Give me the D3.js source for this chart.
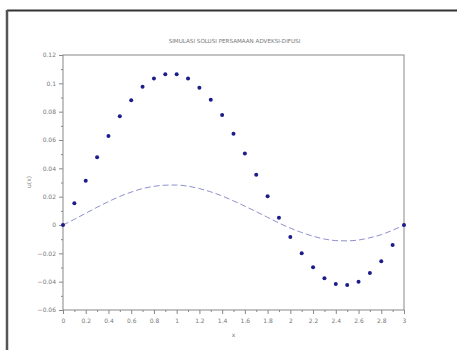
<!DOCTYPE html>
<html>
<head>
<meta charset="utf-8">
<script src="https://cdn.jsdelivr.net/npm/d3@7"></script>
<style>
  body { margin: 0; background: #fff; }
  text { font-family: "DejaVu Sans", sans-serif; fill: #777; }
</style>
</head>
<body>
<div id="chart"></div>
<script>
// x positions (0 .. 3, step 0.1)
const xs = [0, 0.1, 0.2, 0.3, 0.4, 0.5, 0.6, 0.7, 0.8, 0.9, 1.0,
  1.1, 1.2, 1.3, 1.4, 1.5, 1.6, 1.7, 1.8, 1.9, 2.0,
  2.1, 2.2, 2.3, 2.4, 2.5, 2.6, 2.7, 2.8, 2.9, 3.0]

// dotted series
const dots = [0, 0.0153, 0.0313, 0.0478, 0.0628, 0.0767, 0.088, 0.0976, 0.1035, 0.1064, 0.1064,
  0.1035, 0.0969, 0.0885, 0.0776, 0.0645, 0.0504, 0.0355, 0.0203, 0.0052, -0.0085,
  -0.02, -0.0299, -0.0376, -0.0416, -0.0424, -0.04, -0.0339, -0.0256, -0.0141, 0]

// dashed series
const dashed = [0, 0.004, 0.0083, 0.0125, 0.0165, 0.0202, 0.0232, 0.0257, 0.0273, 0.0281, 0.0282,
  0.0274, 0.0257, 0.0234, 0.0205, 0.017, 0.0133, 0.0094, 0.0054, 0.0014, -0.0022,
  -0.0053, -0.0079, -0.0099, -0.011, -0.0112, -0.0106, -0.009, -0.0068, -0.0037, 0]

const xTicks = [0, 0.2, 0.4, 0.6, 0.8, 1, 1.2, 1.4, 1.6, 1.8, 2, 2.2, 2.4, 2.6, 2.8, 3]
const yTicks = [-0.06, -0.04, -0.02, 0, 0.02, 0.04, 0.06, 0.08, 0.1, 0.12]

const title = 'SIMULASI SOLUSI PERSAMAAN ADVEKSI-DIFUSI'

const W = 457, H = 350
const plot = {left: 63, right: 404, top: 55, bottom: 310}

const svg = d3.select('#chart')
  .append('svg')
    .attr('width', W)
    .attr('height', H)

// outer frame (top and left edge only visible)
svg.append('line')
  .attr('x1', 7).attr('x2', W).attr('y1', 10.5).attr('y2', 10.5)
  .style('stroke', '#333').style('stroke-width', 2)
svg.append('line')
  .attr('x1', 7).attr('x2', 7).attr('y1', 10).attr('y2', H)
  .style('stroke', '#555').style('stroke-width', 2.5)

const x = d3.scaleLinear().domain([0, 3]).range([plot.left, plot.right])
const y = d3.scaleLinear().domain([-0.06, 0.12]).range([plot.bottom, plot.top])

// box
svg.append('rect')
  .attr('x', plot.left).attr('y', plot.top)
  .attr('width', plot.right - plot.left).attr('height', plot.bottom - plot.top)
  .style('fill', 'none').style('stroke', '#888').style('stroke-width', 1)

const fmt = d => d === 0 ? '0' : d3.format('~g')(d)

const xAxis = svg.append('g')
  .attr('transform', `translate(0,${plot.bottom})`)
  .call(d3.axisBottom(x).tickValues(xTicks).tickSize(4).tickPadding(5).tickFormat(fmt))
const xMinor = svg.append('g')
  .attr('transform', `translate(0,${plot.bottom})`)
  .call(d3.axisBottom(x).tickValues(d3.range(1, 30, 2).map(i => i / 10)).tickSize(2).tickFormat(''))

const yAxis = svg.append('g')
  .attr('transform', `translate(${plot.left},0)`)
  .call(d3.axisLeft(y).tickValues(yTicks).tickSize(4).tickPadding(3).tickFormat(fmt))
const yMinor = svg.append('g')
  .attr('transform', `translate(${plot.left},0)`)
  .call(d3.axisLeft(y).tickValues(d3.range(-5, 12, 2).map(i => i / 100)).tickSize(2).tickFormat(''))

;[xAxis, xMinor, yAxis, yMinor].forEach(g => {
  g.select('.domain').remove()
  g.selectAll('line').style('stroke', '#888')
  g.selectAll('text').style('font-size', '6px').style('fill', '#777')
})

// dashed line
const line = d3.line()
  .x((d, i) => x(xs[i]))
  .y(d => y(d))
  .curve(d3.curveMonotoneX)

svg.append('path')
  .datum(dashed)
  .attr('d', line)
  .style('fill', 'none')
  .style('stroke', '#8f8fd0')
  .style('stroke-width', 1)
  .style('stroke-dasharray', '6,3')

// dots
svg.append('g')
  .selectAll('circle')
  .data(dots)
  .enter()
  .append('circle')
    .attr('cx', (d, i) => x(xs[i]))
    .attr('cy', d => y(d))
    .attr('r', 2)
    .style('fill', '#1c1c8a')

// title and labels
svg.append('text')
  .attr('x', (plot.left + plot.right) / 2 + 1)
  .attr('y', 43)
  .attr('text-anchor', 'middle')
  .style('font-size', '5.6px')
  .text(title)

svg.append('text')
  .attr('x', (plot.left + plot.right) / 2)
  .attr('y', 337)
  .attr('text-anchor', 'middle')
  .style('font-size', '6px')
  .text('x')

svg.append('text')
  .attr('transform', `translate(31,182) rotate(-90)`)
  .attr('text-anchor', 'middle')
  .style('font-size', '6px')
  .text('u(x)')
</script>
</body>
</html>
